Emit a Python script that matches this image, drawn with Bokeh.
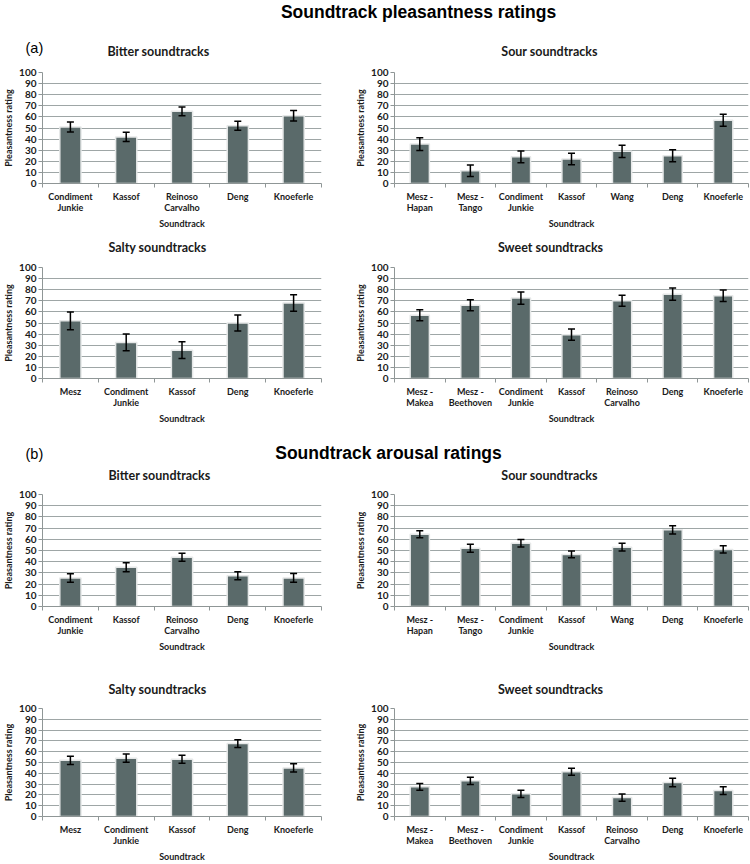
from bokeh.plotting import figure
from bokeh.models import (Range1d, FixedTicker, SingleIntervalTicker, Whisker, TeeHead,
                          ColumnDataSource, Label)
from bokeh.layouts import column, row
from bokeh.embed import file_html
from bokeh.resources import INLINE

# ---------------- data ----------------
main_title_a = "Soundtrack pleasantness ratings"
main_title_b = "Soundtrack arousal ratings"
y_title = "Pleasantness rating"
x_title = "Soundtrack"

bitter_cats = ["Condiment\nJunkie", "Kassof", "Reinoso\nCarvalho", "Deng", "Knoeferle"]
sour_cats = ["Mesz -\nHapan", "Mesz -\nTango", "Condiment\nJunkie", "Kassof", "Wang", "Deng", "Knoeferle"]
salty_cats = ["Mesz", "Condiment\nJunkie", "Kassof", "Deng", "Knoeferle"]
sweet_cats = ["Mesz -\nMakea", "Mesz -\nBeethoven", "Condiment\nJunkie", "Kassof",
              "Reinoso\nCarvalho", "Deng", "Knoeferle"]

# (a) pleasantness
a_bitter_vals = [51, 42, 65, 52, 61]
a_bitter_errs = [4.5, 4.2, 4.0, 4.0, 4.8]
a_sour_vals = [35.5, 11.5, 24, 22, 29, 25, 57]
a_sour_errs = [5.7, 5.2, 5.3, 5.2, 5.5, 5.3, 5.5]
a_salty_vals = [52, 32.5, 25.5, 50, 68]
a_salty_errs = [8.0, 7.5, 7.5, 7.3, 7.4]
a_sweet_vals = [57, 66, 72.5, 39.5, 70, 76, 74.5]
a_sweet_errs = [5.0, 5.0, 5.5, 5.0, 5.0, 5.5, 5.2]

# (b) arousal
b_bitter_vals = [25.5, 35, 44, 27.5, 25.5]
b_bitter_errs = [3.8, 4.0, 3.6, 3.6, 3.9]
b_sour_vals = [64.5, 52, 56.5, 46.5, 53, 68.5, 51]
b_sour_errs = [3.1, 3.5, 3.4, 3.0, 3.5, 3.7, 3.2]
b_salty_vals = [52, 54, 53, 67.5, 45]
b_salty_errs = [3.8, 3.8, 3.6, 3.5, 3.8]
b_sweet_vals = [27.5, 33, 21, 41.5, 17.5, 31.5, 24]
b_sweet_errs = [3.1, 3.3, 3.3, 3.2, 3.3, 3.9, 3.6]

# ---------------- style ----------------
FONT = "Lato"
TITLE_FONT = "Liberation Sans"
BAR = "#5a6a6a"
GRID = "#9ea6a6"
AXIS = "#8f9696"
TXT = "#1a1a1a"

TOTAL_W = 750
LEFT_W, RIGHT_W = 352, 398
L_BORDER_L, L_BORDER_R = 35, 31
R_BORDER_L, R_BORDER_R = 39, 2


def panel(cats, vals, errs, left_side, frame_h, top, bottom):
    n = len(cats)
    xs = [i + 0.5 for i in range(n)]
    src = ColumnDataSource(dict(
        x=xs, top=vals,
        upper=[v + e for v, e in zip(vals, errs)],
        lower=[v - e for v, e in zip(vals, errs)],
    ))
    w = LEFT_W if left_side else RIGHT_W
    bl, br = (L_BORDER_L, L_BORDER_R) if left_side else (R_BORDER_L, R_BORDER_R)
    p = figure(width=w, height=top + frame_h + bottom,
               x_range=Range1d(0, n), y_range=Range1d(0, 100),
               output_backend="svg", toolbar_location=None,
               min_border_top=top, min_border_bottom=bottom,
               min_border_left=bl, min_border_right=br)
    p.outline_line_color = None
    p.background_fill_color = "white"
    p.border_fill_color = "white"

    p.vbar(x="x", top="top", width=0.38, bottom=0, source=src,
           fill_color=BAR, line_color="#e6e8e8", line_width=1.5)
    wh = Whisker(base="x", upper="upper", lower="lower", source=src,
                 line_color="black", line_width=1.5, level="overlay",
                 upper_head=TeeHead(size=7, line_width=1.5, line_color="black"),
                 lower_head=TeeHead(size=7, line_width=1.5, line_color="black"))
    p.add_layout(wh)

    p.xgrid.visible = False
    p.ygrid.grid_line_color = GRID
    p.ygrid.grid_line_width = 1

    ya = p.yaxis[0]
    ya.ticker = SingleIntervalTicker(interval=10, num_minor_ticks=0)
    ya.axis_line_color = AXIS
    ya.major_tick_line_color = AXIS
    ya.major_tick_out = 4
    ya.major_tick_in = 0
    ya.minor_tick_line_color = None
    ya.major_label_text_font = FONT
    ya.major_label_text_font_style = "bold"
    ya.major_label_text_font_size = "10px"
    ya.major_label_text_color = TXT
    ya.major_label_standoff = 2
    ya.axis_label = y_title
    ya.axis_label_text_font = FONT
    ya.axis_label_text_font_style = "bold"
    ya.axis_label_text_font_size = "9px"
    ya.axis_label_text_color = TXT
    ya.axis_label_standoff = 2

    xa = p.xaxis[0]
    xa.ticker = FixedTicker(ticks=xs, minor_ticks=list(range(n + 1)))
    xa.major_label_overrides = {x: c for x, c in zip(xs, cats)}
    xa.axis_line_color = AXIS
    xa.major_tick_out = 0
    xa.major_tick_in = 0
    xa.minor_tick_line_color = AXIS
    xa.minor_tick_out = 4
    xa.minor_tick_in = 0
    xa.major_label_text_font = FONT
    xa.major_label_text_font_size = "9px"
    xa.major_label_text_font_style = "bold"
    xa.major_label_text_color = TXT
    xa.major_label_text_line_height = 1.0
    xa.major_label_standoff = 3
    xa.axis_label = x_title
    xa.axis_label_text_font = FONT
    xa.axis_label_text_font_style = "bold"
    xa.axis_label_text_font_size = "9px"
    xa.axis_label_text_color = TXT
    xa.axis_label_standoff = 2
    return p


def strip(h, texts):
    """A blank band holding titles; texts = list of (x, y_from_top, text, kind)."""
    p = figure(width=TOTAL_W, height=h, x_range=Range1d(0, TOTAL_W),
               y_range=Range1d(h, 0), output_backend="svg", toolbar_location=None,
               min_border=0)
    p.axis.visible = False
    p.grid.visible = False
    p.outline_line_color = None
    for x, y, t, kind in texts:
        if kind == "main":
            kw = dict(text_font=TITLE_FONT, text_font_style="bold", text_font_size="17.5px",
                      text_color="black", text_align="center")
        elif kind == "tag":
            kw = dict(text_font=TITLE_FONT, text_font_size="14.5px", text_color="black",
                      text_align="left")
        else:
            kw = dict(text_font=FONT, text_font_style="bold", text_font_size="12.5px",
                      text_color=TXT, text_align="center")
        p.add_layout(Label(x=x, y=y, text=t, text_baseline="middle", **kw))
    return p


# strip heights / frame layout (top of page = 0)
s1 = strip(64, [(418, 11, main_title_a, "main"), (25, 47, "(a)", "tag"),
                (158, 51, "Bitter soundtracks", "panel"), (549, 51, "Sour soundtracks", "panel")])
a1l = panel(bitter_cats, a_bitter_vals, a_bitter_errs, True, 111, 8, 50)
a1r = panel(sour_cats, a_sour_vals, a_sour_errs, False, 111, 8, 50)

s2 = strip(26, [(157, 14, "Salty soundtracks", "panel"), (550, 14, "Sweet soundtracks", "panel")])
a2l = panel(salty_cats, a_salty_vals, a_salty_errs, True, 111, 8, 50)
a2r = panel(sweet_cats, a_sweet_vals, a_sweet_errs, False, 111, 8, 50)

s3 = strip(58, [(388, 24, main_title_b, "main"), (25, 25, "(b)", "tag"),
                (159, 47, "Bitter soundtracks", "panel"), (549, 47, "Sour soundtracks", "panel")])
b1l = panel(bitter_cats, b_bitter_vals, b_bitter_errs, True, 112, 8, 50)
b1r = panel(sour_cats, b_sour_vals, b_sour_errs, False, 112, 8, 50)

s4 = strip(44, [(157, 33, "Salty soundtracks", "panel"), (550, 33, "Sweet soundtracks", "panel")])
b2l = panel(salty_cats, b_salty_vals, b_salty_errs, True, 110, 8, 46)
b2r = panel(sweet_cats, b_sweet_vals, b_sweet_errs, False, 110, 8, 46)

layout = column(s1, row(a1l, a1r), s2, row(a2l, a2r), s3, row(b1l, b1r), s4, row(b2l, b2r))

open("out.html", "w").write(file_html(layout, INLINE))
